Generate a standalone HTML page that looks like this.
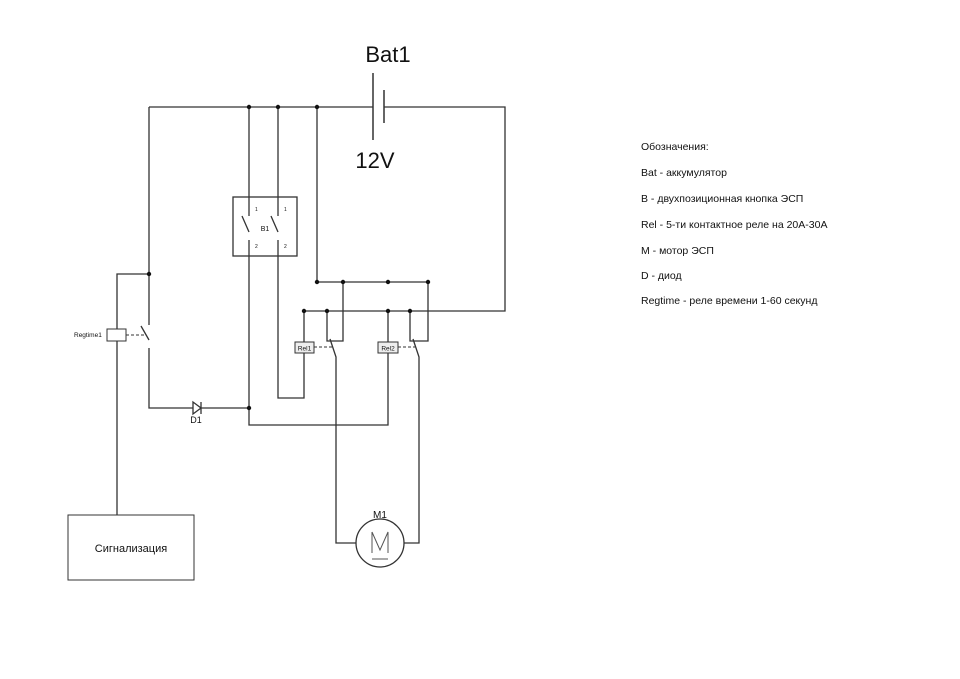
<!DOCTYPE html>
<html><head><meta charset="utf-8"><style>
body{margin:0;background:#fff}
svg{display:block}
text{font-family:"Liberation Sans",sans-serif;fill:#111}
</style></head><body>
<svg width="960" height="679" viewBox="0 0 960 679">
<g stroke="#333" stroke-width="1.3" fill="none">
<!-- top wire -->
<path d="M149 107H373M384 107H505V311H304"/>
<path d="M373 73V140M384 90V123" stroke-width="1.5"/>
<!-- left branch -->
<path d="M149 107V325M141 326L149 340M149 348V408H193M201 408H249"/>
<path d="M149 274H117V515"/>
<!-- B1 -->
<rect x="233" y="197" width="64" height="59"/>
<path d="M249 107V216M242 216L249 232M249 240V425H388V311"/>
<path d="M278 107V216M271 216L278 232M278 240V398H304V311"/>
<!-- middle -->
<path d="M317 107V282H428V341H410V311"/>
<path d="M343 282V341H327V311"/>
<path d="M330 339L336 357V543H356M404 543H419V357L413 339"/>
<circle cx="380" cy="543" r="24"/>
<!-- diode -->
<path d="M193 402V414L201 408Z M201 402V414"/>
</g>
<g stroke="#333" stroke-width="1" stroke-dasharray="3,2" fill="none">
<path d="M126 335H144M314 347H332M398 347H415"/>
</g>
<g fill="#fff" stroke="#333" stroke-width="1">
<rect x="107" y="329" width="19" height="12"/>
<rect x="295" y="342" width="19" height="11" fill="#eee"/>
<rect x="378" y="342" width="20" height="11" fill="#eee"/>
<rect x="68" y="515" width="126" height="65"/>
</g>
<g fill="#111">
<circle cx="249" cy="107" r="2.2"/><circle cx="278" cy="107" r="2.2"/><circle cx="317" cy="107" r="2.2"/>
<circle cx="149" cy="274" r="2.2"/><circle cx="249" cy="408" r="2.2"/>
<circle cx="317" cy="282" r="2.2"/><circle cx="343" cy="282" r="2.2"/><circle cx="388" cy="282" r="2.2"/><circle cx="428" cy="282" r="2.2"/>
<circle cx="304" cy="311" r="2.2"/><circle cx="327" cy="311" r="2.2"/><circle cx="388" cy="311" r="2.2"/><circle cx="410" cy="311" r="2.2"/>
</g>
<path d="M372 532V553M372 532L380 550L388 532V553M372 559H388" stroke="#555" stroke-width="1" fill="none"/>
<text x="388" y="62" font-size="22" text-anchor="middle">Bat1</text>
<text x="375" y="168" font-size="22" text-anchor="middle">12V</text>
<text x="265" y="231" font-size="7" text-anchor="middle">B1</text>
<text x="255" y="211" font-size="5">1</text><text x="284" y="211" font-size="5">1</text>
<text x="255" y="248" font-size="5">2</text><text x="284" y="248" font-size="5">2</text>
<text x="74" y="337" font-size="6.5">Regtime1</text>
<text x="304.5" y="350.5" font-size="6.5" text-anchor="middle">Rel1</text>
<text x="388" y="350.5" font-size="6.5" text-anchor="middle">Rel2</text>
<text x="196" y="423" font-size="9" text-anchor="middle">D1</text>
<text x="380" y="518" font-size="10" text-anchor="middle">M1</text>
<text x="131" y="552" font-size="11" text-anchor="middle">Сигнализация</text>
<g font-size="10.5">
<text x="641" y="150">Обозначения:</text>
<text x="641" y="176">Bat - аккумулятор</text>
<text x="641" y="202">B - двухпозиционная кнопка ЭСП</text>
<text x="641" y="228">Rel - 5-ти контактное реле на 20А-30А</text>
<text x="641" y="254">M - мотор ЭСП</text>
<text x="641" y="279">D - диод</text>
<text x="641" y="304">Regtime - реле времени 1-60 секунд</text>
</g>
</svg>
</body></html>
